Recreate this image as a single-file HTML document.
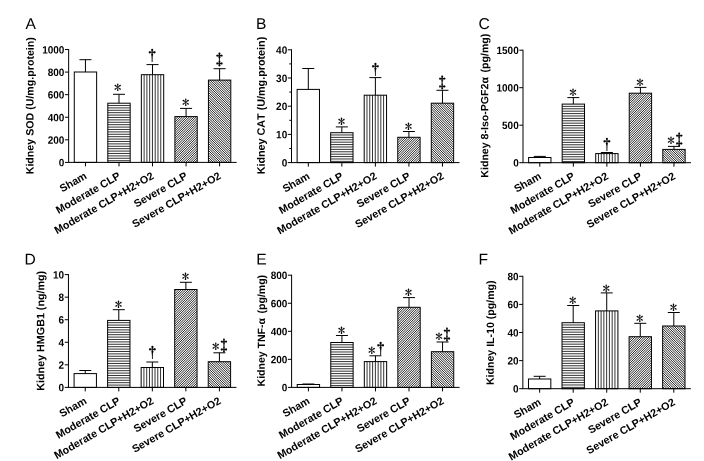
<!DOCTYPE html>
<html lang="en"><head><meta charset="utf-8"><title>Figure</title>
<style>
html,body{margin:0;padding:0;background:#fff;}
body{width:704px;height:461px;overflow:hidden;}
svg{display:block;}
text{font-family:"Liberation Sans",sans-serif;fill:#000;font-kerning:none;}
.pl{font-size:15.6px;}
.yl{font-size:10.65px;font-weight:bold;}
.xl{font-size:10.75px;font-weight:bold;}
.tk{font-size:10px;font-weight:bold;}
.as{font-family:"IPAGothic","Liberation Serif",serif;font-size:15px;stroke:#000;stroke-width:0.1;}
.dg{font-family:"IPAGothic","Liberation Serif",serif;font-size:14.8px;stroke:#000;stroke-width:0.15;}
.dg2{font-family:"IPAGothic","Liberation Serif",serif;font-size:14.4px;stroke:#000;stroke-width:0.3;}
.ln{fill:none;stroke:#000;stroke-width:1.0;}
.b{fill:none;stroke:#000;stroke-width:1.0;}
.hl{fill:none;stroke:#000;stroke-width:0.8;}
.dl{fill:none;stroke:#000;stroke-width:0.86;}
</style></head>
<body>
<svg width="704" height="461" viewBox="0 0 704 461">
<rect width="704" height="461" fill="#fff"/>
<g class="panel">
<text class="pl" transform="translate(25.6 29.0) rotate(0.05)">A</text>
<text class="yl" style="font-size:10.65px" transform="translate(33.6 105.70) rotate(-89.95)" text-anchor="middle">Kidney SOD (U/mg.protein)</text>
<rect class="b" x="74.28" y="72.00" width="22.35" height="90.40"/>
<path class="ln" d="M85.45 72.00V59.70M79.45 59.70H91.45"/>
<path d="M107.82 105.48H130.17M107.82 107.88H130.17M107.82 110.28H130.17M107.82 112.68H130.17M107.82 115.08H130.17M107.82 117.48H130.17M107.82 119.88H130.17M107.82 122.28H130.17M107.82 124.68H130.17M107.82 127.08H130.17M107.82 129.48H130.17M107.82 131.88H130.17M107.82 134.28H130.17M107.82 136.68H130.17M107.82 139.08H130.17M107.82 141.48H130.17M107.82 143.88H130.17M107.82 146.28H130.17M107.82 148.68H130.17M107.82 151.08H130.17M107.82 153.48H130.17M107.82 155.88H130.17M107.82 158.28H130.17M107.82 160.68H130.17" class="hl"/>
<rect class="b" x="107.82" y="103.20" width="22.35" height="59.20"/>
<path class="ln" d="M118.99 103.20V94.30M112.99 94.30H124.99"/>
<text class="as" x="117.69" y="93.30" text-anchor="middle">*</text>
<path d="M144.12 74.70V162.40M146.90 74.70V162.40M149.67 74.70V162.40M152.44 74.70V162.40M155.21 74.70V162.40M157.98 74.70V162.40M160.75 74.70V162.40" class="hl"/>
<rect class="b" x="141.35" y="74.70" width="22.35" height="87.70"/>
<path class="ln" d="M152.53 74.70V64.60M146.53 64.60H158.53"/>
<text class="dg" x="152.23" y="60.70" text-anchor="middle">†</text>
<clipPath id="c1"><rect x="174.89" y="116.60" width="22.35" height="45.80"/></clipPath>
<path d="M174.89 115.10L197.25 92.75M174.89 117.42L197.25 95.07M174.89 119.74L197.25 97.39M174.89 122.06L197.25 99.71M174.89 124.38L197.25 102.03M174.89 126.70L197.25 104.35M174.89 129.02L197.25 106.67M174.89 131.34L197.25 108.99M174.89 133.66L197.25 111.31M174.89 135.98L197.25 113.63M174.89 138.30L197.25 115.95M174.89 140.62L197.25 118.27M174.89 142.94L197.25 120.59M174.89 145.26L197.25 122.91M174.89 147.58L197.25 125.23M174.89 149.90L197.25 127.55M174.89 152.22L197.25 129.87M174.89 154.54L197.25 132.19M174.89 156.86L197.25 134.51M174.89 159.18L197.25 136.83M174.89 161.50L197.25 139.15M174.89 163.82L197.25 141.47M174.89 166.14L197.25 143.79M174.89 168.46L197.25 146.11M174.89 170.78L197.25 148.43M174.89 173.10L197.25 150.75M174.89 175.42L197.25 153.07M174.89 177.74L197.25 155.39M174.89 180.06L197.25 157.71M174.89 182.38L197.25 160.03M174.89 184.70L197.25 162.35M174.89 187.02L197.25 164.67" class="dl" clip-path="url(#c1)"/>
<rect class="b" x="174.89" y="116.60" width="22.35" height="45.80"/>
<path class="ln" d="M186.07 116.60V108.40M180.07 108.40H192.07"/>
<text class="as" x="185.77" y="108.10" text-anchor="middle">*</text>
<clipPath id="c2"><rect x="208.44" y="80.10" width="22.35" height="82.30"/></clipPath>
<path d="M208.44 164.36L230.79 186.71M208.44 162.03L230.79 184.39M208.44 159.72L230.79 182.07M208.44 157.40L230.79 179.75M208.44 155.08L230.79 177.43M208.44 152.75L230.79 175.11M208.44 150.44L230.79 172.79M208.44 148.12L230.79 170.47M208.44 145.80L230.79 168.15M208.44 143.47L230.79 165.83M208.44 141.16L230.79 163.51M208.44 138.84L230.79 161.19M208.44 136.52L230.79 158.87M208.44 134.19L230.79 156.55M208.44 131.88L230.79 154.23M208.44 129.56L230.79 151.91M208.44 127.24L230.79 149.59M208.44 124.92L230.79 147.27M208.44 122.60L230.79 144.95M208.44 120.28L230.79 142.63M208.44 117.96L230.79 140.31M208.44 115.64L230.79 137.99M208.44 113.32L230.79 135.67M208.44 111.00L230.79 133.35M208.44 108.68L230.79 131.03M208.44 106.36L230.79 128.71M208.44 104.04L230.79 126.39M208.44 101.72L230.79 124.07M208.44 99.40L230.79 121.75M208.44 97.08L230.79 119.43M208.44 94.76L230.79 117.11M208.44 92.44L230.79 114.79M208.44 90.12L230.79 112.47M208.44 87.80L230.79 110.15M208.44 85.48L230.79 107.83M208.44 83.16L230.79 105.51M208.44 80.84L230.79 103.19M208.44 78.52L230.79 100.87M208.44 76.20L230.79 98.55M208.44 73.88L230.79 96.23M208.44 71.56L230.79 93.91M208.44 69.24L230.79 91.59M208.44 66.92L230.79 89.27M208.44 64.60L230.79 86.95M208.44 62.28L230.79 84.63M208.44 59.96L230.79 82.31M208.44 57.64L230.79 79.99" class="dl" clip-path="url(#c2)"/>
<rect class="b" x="208.44" y="80.10" width="22.35" height="82.30"/>
<path class="ln" d="M219.61 80.10V68.70M213.61 68.70H225.61"/>
<text class="dg2" x="219.46" y="65.48" text-anchor="middle">‡</text>
<text class="tk" transform="translate(64.35 166.30) rotate(0.05) scale(1 1.07)" text-anchor="end">0</text>
<text class="tk" transform="translate(64.35 143.72) rotate(0.05) scale(1 1.07)" text-anchor="end">200</text>
<text class="tk" transform="translate(64.35 121.14) rotate(0.05) scale(1 1.07)" text-anchor="end">400</text>
<text class="tk" transform="translate(64.35 98.56) rotate(0.05) scale(1 1.07)" text-anchor="end">600</text>
<text class="tk" transform="translate(64.35 75.98) rotate(0.05) scale(1 1.07)" text-anchor="end">800</text>
<text class="tk" transform="translate(64.35 53.40) rotate(0.05) scale(1 1.07)" text-anchor="end">1000</text>
<text class="xl" transform="translate(87.65 177.90) rotate(-30)" text-anchor="end">Sham</text>
<text class="xl" transform="translate(121.19 177.90) rotate(-30)" text-anchor="end">Moderate CLP</text>
<text class="xl" transform="translate(154.73 177.90) rotate(-30)" text-anchor="end">Moderate CLP+H2+O2</text>
<text class="xl" transform="translate(188.27 177.90) rotate(-30)" text-anchor="end">Severe CLP</text>
<text class="xl" transform="translate(221.81 177.90) rotate(-30)" text-anchor="end">Severe CLP+H2+O2</text>
<path class="ln" d="M68.65 49.00V162.40M68.15 162.40H236.65M64.95 162.40H68.65M64.95 139.82H68.65M64.95 117.24H68.65M64.95 94.66H68.65M64.95 72.08H68.65M64.95 49.50H68.65M85.45 162.40V166.40M118.99 162.40V166.40M152.53 162.40V166.40M186.07 162.40V166.40M219.61 162.40V166.40"/>
</g>
<g class="panel">
<text class="pl" transform="translate(256.0 29.0) rotate(0.05)">B</text>
<text class="yl" style="font-size:10.78px" transform="translate(264.8 105.55) rotate(-89.95)" text-anchor="middle">Kidney CAT (U/mg.protein)</text>
<rect class="b" x="297.12" y="89.40" width="22.35" height="73.20"/>
<path class="ln" d="M308.30 89.40V68.50M302.30 68.50H314.30"/>
<path d="M330.67 134.98H353.02M330.67 137.38H353.02M330.67 139.78H353.02M330.67 142.18H353.02M330.67 144.58H353.02M330.67 146.98H353.02M330.67 149.38H353.02M330.67 151.78H353.02M330.67 154.18H353.02M330.67 156.58H353.02M330.67 158.98H353.02M330.67 161.38H353.02" class="hl"/>
<rect class="b" x="330.67" y="132.70" width="22.35" height="29.90"/>
<path class="ln" d="M341.84 132.70V126.90M335.84 126.90H347.84"/>
<text class="as" x="341.44" y="127.10" text-anchor="middle">*</text>
<path d="M366.97 95.20V162.60M369.74 95.20V162.60M372.51 95.20V162.60M375.28 95.20V162.60M378.05 95.20V162.60M380.82 95.20V162.60M383.59 95.20V162.60" class="hl"/>
<rect class="b" x="364.20" y="95.20" width="22.35" height="67.40"/>
<path class="ln" d="M375.38 95.20V77.60M369.38 77.60H381.38"/>
<text class="dg" x="375.38" y="74.80" text-anchor="middle">†</text>
<clipPath id="c3"><rect x="397.75" y="137.30" width="22.35" height="25.30"/></clipPath>
<path d="M397.75 135.85L420.10 113.50M397.75 138.17L420.10 115.82M397.75 140.49L420.10 118.14M397.75 142.81L420.10 120.46M397.75 145.13L420.10 122.78M397.75 147.45L420.10 125.10M397.75 149.77L420.10 127.42M397.75 152.09L420.10 129.74M397.75 154.41L420.10 132.06M397.75 156.73L420.10 134.38M397.75 159.05L420.10 136.70M397.75 161.38L420.10 139.02M397.75 163.69L420.10 141.34M397.75 166.01L420.10 143.66M397.75 168.33L420.10 145.98M397.75 170.65L420.10 148.30M397.75 172.97L420.10 150.62M397.75 175.29L420.10 152.94M397.75 177.61L420.10 155.26M397.75 179.93L420.10 157.58M397.75 182.25L420.10 159.90M397.75 184.57L420.10 162.22M397.75 186.89L420.10 164.54" class="dl" clip-path="url(#c3)"/>
<rect class="b" x="397.75" y="137.30" width="22.35" height="25.30"/>
<path class="ln" d="M408.92 137.30V131.50M402.92 131.50H414.92"/>
<text class="as" x="408.52" y="131.70" text-anchor="middle">*</text>
<clipPath id="c4"><rect x="431.29" y="103.20" width="22.35" height="59.40"/></clipPath>
<path d="M431.29 164.49L453.64 186.84M431.29 162.17L453.64 184.52M431.29 159.85L453.64 182.20M431.29 157.53L453.64 179.88M431.29 155.21L453.64 177.56M431.29 152.89L453.64 175.24M431.29 150.57L453.64 172.92M431.29 148.25L453.64 170.60M431.29 145.93L453.64 168.28M431.29 143.61L453.64 165.96M431.29 141.29L453.64 163.64M431.29 138.97L453.64 161.32M431.29 136.65L453.64 159.00M431.29 134.33L453.64 156.68M431.29 132.01L453.64 154.36M431.29 129.69L453.64 152.04M431.29 127.37L453.64 149.72M431.29 125.05L453.64 147.40M431.29 122.73L453.64 145.08M431.29 120.41L453.64 142.76M431.29 118.09L453.64 140.44M431.29 115.77L453.64 138.12M431.29 113.45L453.64 135.80M431.29 111.13L453.64 133.48M431.29 108.81L453.64 131.16M431.29 106.49L453.64 128.84M431.29 104.17L453.64 126.52M431.29 101.85L453.64 124.20M431.29 99.53L453.64 121.88M431.29 97.21L453.64 119.56M431.29 94.89L453.64 117.24M431.29 92.57L453.64 114.92M431.29 90.25L453.64 112.60M431.29 87.93L453.64 110.28M431.29 85.61L453.64 107.96M431.29 83.29L453.64 105.64M431.29 80.97L453.64 103.32M431.29 78.65L453.64 101.00" class="dl" clip-path="url(#c4)"/>
<rect class="b" x="431.29" y="103.20" width="22.35" height="59.40"/>
<path class="ln" d="M442.46 103.20V90.30M436.46 90.30H448.46"/>
<text class="dg2" x="442.11" y="87.58" text-anchor="middle">‡</text>
<text class="tk" transform="translate(287.20 166.50) rotate(0.05) scale(1 1.07)" text-anchor="end">0</text>
<text class="tk" transform="translate(287.20 138.30) rotate(0.05) scale(1 1.07)" text-anchor="end">10</text>
<text class="tk" transform="translate(287.20 110.10) rotate(0.05) scale(1 1.07)" text-anchor="end">20</text>
<text class="tk" transform="translate(287.20 81.90) rotate(0.05) scale(1 1.07)" text-anchor="end">30</text>
<text class="tk" transform="translate(287.20 53.70) rotate(0.05) scale(1 1.07)" text-anchor="end">40</text>
<text class="xl" transform="translate(310.50 178.10) rotate(-30)" text-anchor="end">Sham</text>
<text class="xl" transform="translate(344.04 178.10) rotate(-30)" text-anchor="end">Moderate CLP</text>
<text class="xl" transform="translate(377.58 178.10) rotate(-30)" text-anchor="end">Moderate CLP+H2+O2</text>
<text class="xl" transform="translate(411.12 178.10) rotate(-30)" text-anchor="end">Severe CLP</text>
<text class="xl" transform="translate(444.66 178.10) rotate(-30)" text-anchor="end">Severe CLP+H2+O2</text>
<path class="ln" d="M291.50 49.30V162.60M291.00 162.60H459.50M287.80 162.60H291.50M289.30 148.50H291.50M287.80 134.40H291.50M289.30 120.30H291.50M287.80 106.20H291.50M289.30 92.10H291.50M287.80 78.00H291.50M289.30 63.90H291.50M287.80 49.80H291.50M308.30 162.60V166.60M341.84 162.60V166.60M375.38 162.60V166.60M408.92 162.60V166.60M442.46 162.60V166.60"/>
</g>
<g class="panel">
<text class="pl" transform="translate(478.4 29.0) rotate(0.05)">C</text>
<text class="yl" style="font-size:10.59px" transform="translate(488.2 105.65) rotate(-89.95)" text-anchor="middle">Kidney 8-Iso-PGF2α<tspan dx="1.7"> (pg/mg)</tspan></text>
<rect class="b" x="528.62" y="157.50" width="22.35" height="5.20"/>
<path class="ln" d="M539.80 157.50V156.40M533.80 156.40H545.80"/>
<path d="M562.17 106.38H584.51M562.17 108.78H584.51M562.17 111.18H584.51M562.17 113.58H584.51M562.17 115.98H584.51M562.17 118.38H584.51M562.17 120.78H584.51M562.17 123.18H584.51M562.17 125.58H584.51M562.17 127.98H584.51M562.17 130.38H584.51M562.17 132.78H584.51M562.17 135.18H584.51M562.17 137.58H584.51M562.17 139.98H584.51M562.17 142.38H584.51M562.17 144.78H584.51M562.17 147.18H584.51M562.17 149.58H584.51M562.17 151.98H584.51M562.17 154.38H584.51M562.17 156.78H584.51M562.17 159.18H584.51M562.17 161.58H584.51" class="hl"/>
<rect class="b" x="562.17" y="104.10" width="22.35" height="58.60"/>
<path class="ln" d="M573.34 104.10V97.60M567.34 97.60H579.34"/>
<text class="as" x="572.94" y="98.00" text-anchor="middle">*</text>
<path d="M598.48 153.60V162.70M601.25 153.60V162.70M604.01 153.60V162.70M606.78 153.60V162.70M609.55 153.60V162.70M612.32 153.60V162.70M615.09 153.60V162.70" class="hl"/>
<rect class="b" x="595.71" y="153.60" width="22.35" height="9.10"/>
<path class="ln" d="M606.88 153.60V152.50M600.88 152.50H612.88"/>
<text class="dg" x="606.88" y="150.20" text-anchor="middle">†</text>
<clipPath id="c5"><rect x="629.25" y="93.20" width="22.35" height="69.50"/></clipPath>
<path d="M629.25 92.27L651.59 69.93M629.25 94.59L651.59 72.25M629.25 96.91L651.59 74.57M629.25 99.23L651.59 76.89M629.25 101.55L651.59 79.21M629.25 103.87L651.59 81.53M629.25 106.19L651.59 83.85M629.25 108.51L651.59 86.17M629.25 110.83L651.59 88.49M629.25 113.15L651.59 90.81M629.25 115.47L651.59 93.13M629.25 117.79L651.59 95.45M629.25 120.11L651.59 97.77M629.25 122.43L651.59 100.09M629.25 124.75L651.59 102.41M629.25 127.07L651.59 104.73M629.25 129.39L651.59 107.05M629.25 131.71L651.59 109.37M629.25 134.03L651.59 111.69M629.25 136.35L651.59 114.01M629.25 138.67L651.59 116.33M629.25 140.99L651.59 118.65M629.25 143.31L651.59 120.97M629.25 145.63L651.59 123.29M629.25 147.95L651.59 125.61M629.25 150.27L651.59 127.93M629.25 152.59L651.59 130.25M629.25 154.91L651.59 132.57M629.25 157.23L651.59 134.89M629.25 159.55L651.59 137.21M629.25 161.87L651.59 139.53M629.25 164.19L651.59 141.85M629.25 166.51L651.59 144.17M629.25 168.83L651.59 146.49M629.25 171.15L651.59 148.81M629.25 173.47L651.59 151.13M629.25 175.79L651.59 153.45M629.25 178.11L651.59 155.77M629.25 180.43L651.59 158.09M629.25 182.75L651.59 160.41M629.25 185.07L651.59 162.73" class="dl" clip-path="url(#c5)"/>
<rect class="b" x="629.25" y="93.20" width="22.35" height="69.50"/>
<path class="ln" d="M640.42 93.20V87.40M634.42 87.40H646.42"/>
<text class="as" x="640.02" y="87.70" text-anchor="middle">*</text>
<clipPath id="c6"><rect x="662.79" y="149.40" width="22.35" height="13.30"/></clipPath>
<path d="M662.79 163.99L685.13 186.34M662.79 161.67L685.13 184.02M662.79 159.35L685.13 181.70M662.79 157.03L685.13 179.38M662.79 154.71L685.13 177.06M662.79 152.39L685.13 174.74M662.79 150.07L685.13 172.42M662.79 147.75L685.13 170.10M662.79 145.43L685.13 167.78M662.79 143.11L685.13 165.46M662.79 140.79L685.13 163.14M662.79 138.47L685.13 160.82M662.79 136.15L685.13 158.50M662.79 133.83L685.13 156.18M662.79 131.51L685.13 153.86M662.79 129.19L685.13 151.54M662.79 126.87L685.13 149.22" class="dl" clip-path="url(#c6)"/>
<rect class="b" x="662.79" y="149.40" width="22.35" height="13.30"/>
<path class="ln" d="M673.96 149.40V146.40M667.96 146.40H679.96"/>
<text class="as" x="670.91" y="145.80" text-anchor="middle">*</text>
<text class="dg2" x="679.11" y="144.98" text-anchor="middle">‡</text>
<text class="tk" transform="translate(518.70 166.60) rotate(0.05) scale(1 1.07)" text-anchor="end">0</text>
<text class="tk" transform="translate(518.70 129.10) rotate(0.05) scale(1 1.07)" text-anchor="end">500</text>
<text class="tk" transform="translate(518.70 91.60) rotate(0.05) scale(1 1.07)" text-anchor="end">1000</text>
<text class="tk" transform="translate(518.70 54.10) rotate(0.05) scale(1 1.07)" text-anchor="end">1500</text>
<text class="xl" transform="translate(542.00 178.20) rotate(-30)" text-anchor="end">Sham</text>
<text class="xl" transform="translate(575.54 178.20) rotate(-30)" text-anchor="end">Moderate CLP</text>
<text class="xl" transform="translate(609.08 178.20) rotate(-30)" text-anchor="end">Moderate CLP+H2+O2</text>
<text class="xl" transform="translate(642.62 178.20) rotate(-30)" text-anchor="end">Severe CLP</text>
<text class="xl" transform="translate(676.16 178.20) rotate(-30)" text-anchor="end">Severe CLP+H2+O2</text>
<path class="ln" d="M523.00 49.70V162.70M522.50 162.70H691.00M519.30 162.70H523.00M519.30 125.20H523.00M519.30 87.70H523.00M519.30 50.20H523.00M539.80 162.70V166.70M573.34 162.70V166.70M606.88 162.70V166.70M640.42 162.70V166.70M673.96 162.70V166.70"/>
</g>
<g class="panel">
<text class="pl" transform="translate(24.6 264.5) rotate(0.05)">D</text>
<text class="yl" style="font-size:10.74px" transform="translate(44.3 330.75) rotate(-89.95)" text-anchor="middle">Kidney HMGB1 (ng/mg)</text>
<rect class="b" x="74.08" y="373.60" width="22.35" height="13.80"/>
<path class="ln" d="M85.25 373.60V370.50M79.25 370.50H91.25"/>
<path d="M107.62 322.68H129.97M107.62 325.08H129.97M107.62 327.48H129.97M107.62 329.88H129.97M107.62 332.28H129.97M107.62 334.68H129.97M107.62 337.08H129.97M107.62 339.48H129.97M107.62 341.88H129.97M107.62 344.28H129.97M107.62 346.68H129.97M107.62 349.08H129.97M107.62 351.48H129.97M107.62 353.88H129.97M107.62 356.28H129.97M107.62 358.68H129.97M107.62 361.08H129.97M107.62 363.48H129.97M107.62 365.88H129.97M107.62 368.28H129.97M107.62 370.68H129.97M107.62 373.08H129.97M107.62 375.48H129.97M107.62 377.88H129.97M107.62 380.28H129.97M107.62 382.68H129.97M107.62 385.08H129.97" class="hl"/>
<rect class="b" x="107.62" y="320.40" width="22.35" height="67.00"/>
<path class="ln" d="M118.79 320.40V309.70M112.79 309.70H124.79"/>
<text class="as" x="118.39" y="309.85" text-anchor="middle">*</text>
<path d="M143.92 367.50V387.40M146.69 367.50V387.40M149.47 367.50V387.40M152.24 367.50V387.40M155.01 367.50V387.40M157.78 367.50V387.40M160.55 367.50V387.40" class="hl"/>
<rect class="b" x="141.15" y="367.50" width="22.35" height="19.90"/>
<path class="ln" d="M152.33 367.50V362.00M146.33 362.00H158.33"/>
<text class="dg" x="152.33" y="358.30" text-anchor="middle">†</text>
<clipPath id="c7"><rect x="174.69" y="289.50" width="22.35" height="97.90"/></clipPath>
<path d="M174.69 289.31L197.05 266.95M174.69 291.62L197.05 269.27M174.69 293.94L197.05 271.59M174.69 296.26L197.05 273.91M174.69 298.58L197.05 276.23M174.69 300.90L197.05 278.55M174.69 303.22L197.05 280.87M174.69 305.54L197.05 283.19M174.69 307.87L197.05 285.51M174.69 310.19L197.05 287.83M174.69 312.50L197.05 290.15M174.69 314.82L197.05 292.47M174.69 317.14L197.05 294.79M174.69 319.46L197.05 297.11M174.69 321.78L197.05 299.43M174.69 324.10L197.05 301.75M174.69 326.43L197.05 304.07M174.69 328.75L197.05 306.39M174.69 331.06L197.05 308.71M174.69 333.38L197.05 311.03M174.69 335.70L197.05 313.35M174.69 338.02L197.05 315.67M174.69 340.34L197.05 317.99M174.69 342.66L197.05 320.31M174.69 344.98L197.05 322.63M174.69 347.31L197.05 324.95M174.69 349.62L197.05 327.27M174.69 351.94L197.05 329.59M174.69 354.26L197.05 331.91M174.69 356.58L197.05 334.23M174.69 358.90L197.05 336.55M174.69 361.22L197.05 338.87M174.69 363.54L197.05 341.19M174.69 365.87L197.05 343.51M174.69 368.19L197.05 345.83M174.69 370.50L197.05 348.15M174.69 372.82L197.05 350.47M174.69 375.14L197.05 352.79M174.69 377.46L197.05 355.11M174.69 379.78L197.05 357.43M174.69 382.10L197.05 359.75M174.69 384.42L197.05 362.07M174.69 386.75L197.05 364.39M174.69 389.06L197.05 366.71M174.69 391.38L197.05 369.03M174.69 393.70L197.05 371.35M174.69 396.02L197.05 373.67M174.69 398.34L197.05 375.99M174.69 400.66L197.05 378.31M174.69 402.98L197.05 380.63M174.69 405.31L197.05 382.95M174.69 407.62L197.05 385.27M174.69 409.94L197.05 387.59" class="dl" clip-path="url(#c7)"/>
<rect class="b" x="174.69" y="289.50" width="22.35" height="97.90"/>
<path class="ln" d="M185.87 289.50V282.30M179.87 282.30H191.87"/>
<text class="as" x="185.47" y="281.80" text-anchor="middle">*</text>
<clipPath id="c8"><rect x="208.24" y="361.70" width="22.35" height="25.70"/></clipPath>
<path d="M208.24 389.19L230.59 411.55M208.24 386.88L230.59 409.23M208.24 384.56L230.59 406.91M208.24 382.24L230.59 404.59M208.24 379.92L230.59 402.26M208.24 377.60L230.59 399.94M208.24 375.28L230.59 397.62M208.24 372.95L230.59 395.31M208.24 370.63L230.59 392.99M208.24 368.31L230.59 390.67M208.24 366.00L230.59 388.35M208.24 363.68L230.59 386.03M208.24 361.36L230.59 383.71M208.24 359.04L230.59 381.38M208.24 356.72L230.59 379.06M208.24 354.40L230.59 376.75M208.24 352.07L230.59 374.43M208.24 349.75L230.59 372.11M208.24 347.44L230.59 369.79M208.24 345.12L230.59 367.47M208.24 342.80L230.59 365.15M208.24 340.48L230.59 362.82M208.24 338.16L230.59 360.50" class="dl" clip-path="url(#c8)"/>
<rect class="b" x="208.24" y="361.70" width="22.35" height="25.70"/>
<path class="ln" d="M219.41 361.70V352.80M213.41 352.80H225.41"/>
<text class="as" x="215.71" y="351.55" text-anchor="middle">*</text>
<text class="dg2" x="223.91" y="350.68" text-anchor="middle">‡</text>
<text class="tk" transform="translate(64.15 391.30) rotate(0.05) scale(1 1.07)" text-anchor="end">0</text>
<text class="tk" transform="translate(64.15 368.74) rotate(0.05) scale(1 1.07)" text-anchor="end">2</text>
<text class="tk" transform="translate(64.15 346.18) rotate(0.05) scale(1 1.07)" text-anchor="end">4</text>
<text class="tk" transform="translate(64.15 323.62) rotate(0.05) scale(1 1.07)" text-anchor="end">6</text>
<text class="tk" transform="translate(64.15 301.06) rotate(0.05) scale(1 1.07)" text-anchor="end">8</text>
<text class="tk" transform="translate(64.15 278.50) rotate(0.05) scale(1 1.07)" text-anchor="end">10</text>
<text class="xl" transform="translate(87.45 402.90) rotate(-30)" text-anchor="end">Sham</text>
<text class="xl" transform="translate(120.99 402.90) rotate(-30)" text-anchor="end">Moderate CLP</text>
<text class="xl" transform="translate(154.53 402.90) rotate(-30)" text-anchor="end">Moderate CLP+H2+O2</text>
<text class="xl" transform="translate(188.07 402.90) rotate(-30)" text-anchor="end">Severe CLP</text>
<text class="xl" transform="translate(221.61 402.90) rotate(-30)" text-anchor="end">Severe CLP+H2+O2</text>
<path class="ln" d="M68.45 274.10V387.40M67.95 387.40H236.45M64.75 387.40H68.45M64.75 364.84H68.45M64.75 342.28H68.45M64.75 319.72H68.45M64.75 297.16H68.45M64.75 274.60H68.45M85.25 387.40V391.40M118.79 387.40V391.40M152.33 387.40V391.40M185.87 387.40V391.40M219.41 387.40V391.40"/>
</g>
<g class="panel">
<text class="pl" transform="translate(256.2 264.5) rotate(0.05)">E</text>
<text class="yl" style="font-size:10.52px" transform="translate(264.9 330.65) rotate(-89.95)" text-anchor="middle">Kidney TNF-α<tspan dx="1.7"> (pg/mg)</tspan></text>
<rect class="b" x="297.23" y="384.50" width="22.35" height="2.90"/>
<path class="ln" d="M308.40 384.50V384.00M302.40 384.00H314.40"/>
<path d="M330.77 344.78H353.12M330.77 347.18H353.12M330.77 349.58H353.12M330.77 351.98H353.12M330.77 354.38H353.12M330.77 356.78H353.12M330.77 359.18H353.12M330.77 361.58H353.12M330.77 363.98H353.12M330.77 366.38H353.12M330.77 368.78H353.12M330.77 371.18H353.12M330.77 373.58H353.12M330.77 375.98H353.12M330.77 378.38H353.12M330.77 380.78H353.12M330.77 383.18H353.12M330.77 385.58H353.12" class="hl"/>
<rect class="b" x="330.77" y="342.50" width="22.35" height="44.90"/>
<path class="ln" d="M341.94 342.50V335.50M335.94 335.50H347.94"/>
<text class="as" x="341.54" y="335.70" text-anchor="middle">*</text>
<path d="M367.07 361.60V387.40M369.84 361.60V387.40M372.61 361.60V387.40M375.38 361.60V387.40M378.15 361.60V387.40M380.92 361.60V387.40M383.69 361.60V387.40" class="hl"/>
<rect class="b" x="364.31" y="361.60" width="22.35" height="25.80"/>
<path class="ln" d="M375.48 361.60V355.80M369.48 355.80H381.48"/>
<text class="as" x="371.68" y="356.30" text-anchor="middle">*</text>
<text class="dg" x="380.58" y="354.40" text-anchor="middle">†</text>
<clipPath id="c9"><rect x="397.85" y="307.30" width="22.35" height="80.10"/></clipPath>
<path d="M397.85 305.11L420.20 282.76M397.85 307.43L420.20 285.08M397.85 309.75L420.20 287.40M397.85 312.07L420.20 289.72M397.85 314.39L420.20 292.04M397.85 316.71L420.20 294.36M397.85 319.03L420.20 296.68M397.85 321.35L420.20 299.00M397.85 323.67L420.20 301.32M397.85 325.99L420.20 303.64M397.85 328.31L420.20 305.96M397.85 330.63L420.20 308.28M397.85 332.95L420.20 310.60M397.85 335.27L420.20 312.92M397.85 337.59L420.20 315.24M397.85 339.91L420.20 317.56M397.85 342.23L420.20 319.88M397.85 344.55L420.20 322.20M397.85 346.87L420.20 324.52M397.85 349.19L420.20 326.84M397.85 351.51L420.20 329.16M397.85 353.83L420.20 331.48M397.85 356.15L420.20 333.80M397.85 358.47L420.20 336.12M397.85 360.79L420.20 338.44M397.85 363.11L420.20 340.76M397.85 365.43L420.20 343.08M397.85 367.75L420.20 345.40M397.85 370.07L420.20 347.72M397.85 372.39L420.20 350.04M397.85 374.71L420.20 352.36M397.85 377.03L420.20 354.68M397.85 379.35L420.20 357.00M397.85 381.67L420.20 359.32M397.85 383.99L420.20 361.64M397.85 386.31L420.20 363.96M397.85 388.63L420.20 366.28M397.85 390.95L420.20 368.60M397.85 393.27L420.20 370.92M397.85 395.59L420.20 373.24M397.85 397.91L420.20 375.56M397.85 400.23L420.20 377.88M397.85 402.55L420.20 380.20M397.85 404.87L420.20 382.52M397.85 407.19L420.20 384.84M397.85 409.51L420.20 387.16M397.85 411.83L420.20 389.48" class="dl" clip-path="url(#c9)"/>
<rect class="b" x="397.85" y="307.30" width="22.35" height="80.10"/>
<path class="ln" d="M409.02 307.30V297.60M403.02 297.60H415.02"/>
<text class="as" x="408.62" y="298.40" text-anchor="middle">*</text>
<clipPath id="c10"><rect x="431.39" y="351.70" width="22.35" height="35.70"/></clipPath>
<path d="M431.39 389.63L453.74 411.98M431.39 387.31L453.74 409.66M431.39 384.99L453.74 407.34M431.39 382.67L453.74 405.02M431.39 380.35L453.74 402.70M431.39 378.03L453.74 400.38M431.39 375.71L453.74 398.06M431.39 373.39L453.74 395.74M431.39 371.07L453.74 393.42M431.39 368.75L453.74 391.10M431.39 366.43L453.74 388.78M431.39 364.11L453.74 386.46M431.39 361.79L453.74 384.14M431.39 359.47L453.74 381.82M431.39 357.15L453.74 379.50M431.39 354.83L453.74 377.18M431.39 352.51L453.74 374.86M431.39 350.19L453.74 372.54M431.39 347.87L453.74 370.22M431.39 345.55L453.74 367.90M431.39 343.23L453.74 365.58M431.39 340.91L453.74 363.26M431.39 338.59L453.74 360.94M431.39 336.27L453.74 358.62M431.39 333.95L453.74 356.30M431.39 331.63L453.74 353.98M431.39 329.31L453.74 351.66" class="dl" clip-path="url(#c10)"/>
<rect class="b" x="431.39" y="351.70" width="22.35" height="35.70"/>
<path class="ln" d="M442.56 351.70V342.00M436.56 342.00H448.56"/>
<text class="as" x="438.91" y="342.10" text-anchor="middle">*</text>
<text class="dg2" x="447.01" y="339.58" text-anchor="middle">‡</text>
<text class="tk" transform="translate(287.30 391.30) rotate(0.05) scale(1 1.07)" text-anchor="end">0</text>
<text class="tk" transform="translate(287.30 363.25) rotate(0.05) scale(1 1.07)" text-anchor="end">200</text>
<text class="tk" transform="translate(287.30 335.20) rotate(0.05) scale(1 1.07)" text-anchor="end">400</text>
<text class="tk" transform="translate(287.30 307.15) rotate(0.05) scale(1 1.07)" text-anchor="end">600</text>
<text class="tk" transform="translate(287.30 279.10) rotate(0.05) scale(1 1.07)" text-anchor="end">800</text>
<text class="xl" transform="translate(310.60 402.90) rotate(-30)" text-anchor="end">Sham</text>
<text class="xl" transform="translate(344.14 402.90) rotate(-30)" text-anchor="end">Moderate CLP</text>
<text class="xl" transform="translate(377.68 402.90) rotate(-30)" text-anchor="end">Moderate CLP+H2+O2</text>
<text class="xl" transform="translate(411.22 402.90) rotate(-30)" text-anchor="end">Severe CLP</text>
<text class="xl" transform="translate(444.76 402.90) rotate(-30)" text-anchor="end">Severe CLP+H2+O2</text>
<path class="ln" d="M291.60 274.70V387.40M291.10 387.40H459.60M287.90 387.40H291.60M287.90 359.35H291.60M287.90 331.30H291.60M287.90 303.25H291.60M287.90 275.20H291.60M308.40 387.40V391.40M341.94 387.40V391.40M375.48 387.40V391.40M409.02 387.40V391.40M442.56 387.40V391.40"/>
</g>
<g class="panel">
<text class="pl" transform="translate(478.6 264.5) rotate(0.05)">F</text>
<text class="yl" style="font-size:10.58px" transform="translate(493.9 332.75) rotate(-89.95)" text-anchor="middle">Kidney IL-10 (pg/mg)</text>
<rect class="b" x="528.48" y="379.00" width="22.35" height="9.70"/>
<path class="ln" d="M539.65 379.00V376.30M533.65 376.30H545.65"/>
<path d="M562.02 324.98H584.37M562.02 327.38H584.37M562.02 329.78H584.37M562.02 332.18H584.37M562.02 334.58H584.37M562.02 336.98H584.37M562.02 339.38H584.37M562.02 341.78H584.37M562.02 344.18H584.37M562.02 346.58H584.37M562.02 348.98H584.37M562.02 351.38H584.37M562.02 353.78H584.37M562.02 356.18H584.37M562.02 358.58H584.37M562.02 360.98H584.37M562.02 363.38H584.37M562.02 365.78H584.37M562.02 368.18H584.37M562.02 370.58H584.37M562.02 372.98H584.37M562.02 375.38H584.37M562.02 377.78H584.37M562.02 380.18H584.37M562.02 382.58H584.37M562.02 384.98H584.37M562.02 387.38H584.37" class="hl"/>
<rect class="b" x="562.02" y="322.70" width="22.35" height="66.00"/>
<path class="ln" d="M573.19 322.70V305.50M567.19 305.50H579.19"/>
<text class="as" x="572.79" y="306.10" text-anchor="middle">*</text>
<path d="M598.33 310.90V388.70M601.10 310.90V388.70M603.87 310.90V388.70M606.63 310.90V388.70M609.40 310.90V388.70M612.17 310.90V388.70M614.94 310.90V388.70" class="hl"/>
<rect class="b" x="595.56" y="310.90" width="22.35" height="77.80"/>
<path class="ln" d="M606.73 310.90V292.90M600.73 292.90H612.73"/>
<text class="as" x="606.33" y="293.50" text-anchor="middle">*</text>
<clipPath id="c11"><rect x="629.10" y="336.70" width="22.35" height="52.00"/></clipPath>
<path d="M629.10 336.02L651.44 313.68M629.10 338.34L651.44 316.00M629.10 340.66L651.44 318.31M629.10 342.98L651.44 320.63M629.10 345.30L651.44 322.95M629.10 347.62L651.44 325.27M629.10 349.94L651.44 327.59M629.10 352.26L651.44 329.91M629.10 354.58L651.44 332.24M629.10 356.90L651.44 334.56M629.10 359.22L651.44 336.88M629.10 361.54L651.44 339.19M629.10 363.86L651.44 341.51M629.10 366.18L651.44 343.83M629.10 368.50L651.44 346.15M629.10 370.82L651.44 348.47M629.10 373.14L651.44 350.79M629.10 375.46L651.44 353.12M629.10 377.78L651.44 355.44M629.10 380.10L651.44 357.75M629.10 382.42L651.44 360.07M629.10 384.74L651.44 362.39M629.10 387.06L651.44 364.71M629.10 389.38L651.44 367.03M629.10 391.70L651.44 369.35M629.10 394.02L651.44 371.68M629.10 396.34L651.44 374.00M629.10 398.66L651.44 376.31M629.10 400.98L651.44 378.63M629.10 403.30L651.44 380.95M629.10 405.62L651.44 383.27M629.10 407.94L651.44 385.59M629.10 410.26L651.44 387.91M629.10 412.58L651.44 390.23" class="dl" clip-path="url(#c11)"/>
<rect class="b" x="629.10" y="336.70" width="22.35" height="52.00"/>
<path class="ln" d="M640.27 336.70V323.30M634.27 323.30H646.27"/>
<text class="as" x="639.87" y="323.90" text-anchor="middle">*</text>
<clipPath id="c12"><rect x="662.64" y="326.00" width="22.35" height="62.70"/></clipPath>
<path d="M662.64 388.88L684.99 411.23M662.64 386.56L684.99 408.91M662.64 384.24L684.99 406.59M662.64 381.92L684.99 404.27M662.64 379.60L684.99 401.95M662.64 377.28L684.99 399.63M662.64 374.96L684.99 397.31M662.64 372.64L684.99 394.99M662.64 370.32L684.99 392.67M662.64 368.00L684.99 390.35M662.64 365.68L684.99 388.03M662.64 363.36L684.99 385.71M662.64 361.04L684.99 383.39M662.64 358.72L684.99 381.07M662.64 356.40L684.99 378.75M662.64 354.08L684.99 376.43M662.64 351.76L684.99 374.11M662.64 349.44L684.99 371.79M662.64 347.12L684.99 369.47M662.64 344.80L684.99 367.15M662.64 342.48L684.99 364.83M662.64 340.16L684.99 362.51M662.64 337.84L684.99 360.19M662.64 335.52L684.99 357.87M662.64 333.20L684.99 355.55M662.64 330.88L684.99 353.23M662.64 328.56L684.99 350.91M662.64 326.24L684.99 348.59M662.64 323.92L684.99 346.27M662.64 321.60L684.99 343.95M662.64 319.28L684.99 341.63M662.64 316.96L684.99 339.31M662.64 314.64L684.99 336.99M662.64 312.32L684.99 334.67M662.64 310.00L684.99 332.35M662.64 307.68L684.99 330.03M662.64 305.36L684.99 327.71M662.64 303.04L684.99 325.39" class="dl" clip-path="url(#c12)"/>
<rect class="b" x="662.64" y="326.00" width="22.35" height="62.70"/>
<path class="ln" d="M673.81 326.00V312.50M667.81 312.50H679.81"/>
<text class="as" x="673.41" y="313.10" text-anchor="middle">*</text>
<text class="tk" transform="translate(518.55 392.60) rotate(0.05) scale(1 1.07)" text-anchor="end">0</text>
<text class="tk" transform="translate(518.55 364.50) rotate(0.05) scale(1 1.07)" text-anchor="end">20</text>
<text class="tk" transform="translate(518.55 336.40) rotate(0.05) scale(1 1.07)" text-anchor="end">40</text>
<text class="tk" transform="translate(518.55 308.30) rotate(0.05) scale(1 1.07)" text-anchor="end">60</text>
<text class="tk" transform="translate(518.55 280.20) rotate(0.05) scale(1 1.07)" text-anchor="end">80</text>
<text class="xl" transform="translate(541.85 404.20) rotate(-30)" text-anchor="end">Sham</text>
<text class="xl" transform="translate(575.39 404.20) rotate(-30)" text-anchor="end">Moderate CLP</text>
<text class="xl" transform="translate(608.93 404.20) rotate(-30)" text-anchor="end">Moderate CLP+H2+O2</text>
<text class="xl" transform="translate(642.47 404.20) rotate(-30)" text-anchor="end">Severe CLP</text>
<text class="xl" transform="translate(676.01 404.20) rotate(-30)" text-anchor="end">Severe CLP+H2+O2</text>
<path class="ln" d="M522.85 275.80V388.70M522.35 388.70H690.85M519.15 388.70H522.85M519.15 360.60H522.85M519.15 332.50H522.85M519.15 304.40H522.85M519.15 276.30H522.85M539.65 388.70V392.70M573.19 388.70V392.70M606.73 388.70V392.70M640.27 388.70V392.70M673.81 388.70V392.70"/>
</g>
</svg>
</body></html>
